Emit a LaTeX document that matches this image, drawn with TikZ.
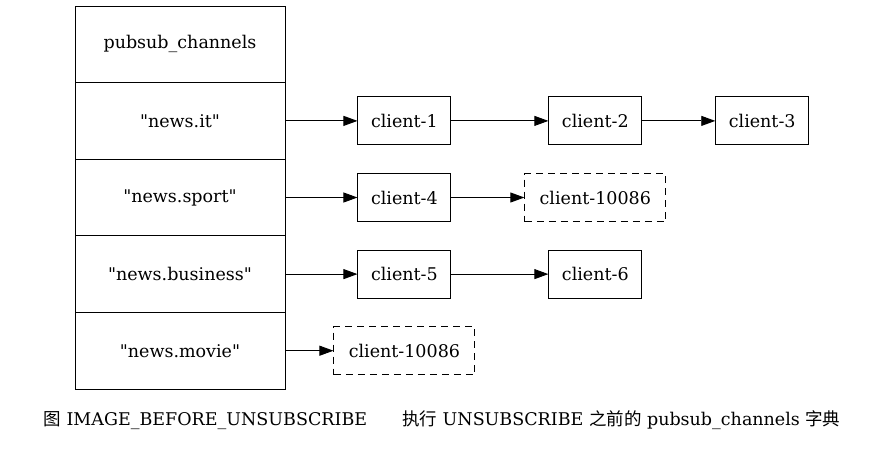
\documentclass[tikz,border=0pt]{standalone}
\usepackage{fontspec}
\setmainfont{DejaVu Serif}[Ligatures=TeXOff]
\newfontfamily\cjk{Noto Sans CJK SC}
\usetikzlibrary{arrows.meta,positioning}

\begin{document}
\begin{tikzpicture}[x=1pt, y=-1pt, font=\fontsize{17.5}{20}\selectfont,
    cell/.style={draw, line width=0.9pt, minimum width=210pt, minimum height=76.6pt, inner sep=0pt},
    client/.style={draw, line width=0.9pt, minimum width=93pt, minimum height=48pt, inner sep=0pt},
    gone/.style={client, dash pattern=on 7pt off 5pt, minimum width=141pt},
    link/.style={-{Triangle[length=14pt,width=10pt]}, line width=0.9pt}]
        \useasboundingbox (0,0) rectangle (880,448);

        % Dictionary table
        \node[cell] (dict) at (180,44.3) {pubsub\_channels};
        \foreach \name/\label [count=\i] in {it/news.it, sport/news.sport, business/news.business, movie/news.movie} {
          \pgfmathsetmacro{\ypos}{44.3+76.6*\i}
          \node[cell] (\name) at (180,\ypos) {"\label"};
        }

        % Subscribed clients
        \node[client, right=72pt of it] (c1) {client-1};
        \node[client, right=97pt of c1] (c2) {client-2};
        \node[client, right=73pt of c2] (c3) {client-3};
        \node[client, right=72pt of sport] (c4) {client-4};
        \node[gone, right=73pt of c4] (c10086a) {client-10086};
        \node[client, right=72pt of business] (c5) {client-5};
        \node[client, right=97pt of c5] (c6) {client-6};
        \node[gone, right=48pt of movie] (c10086b) {client-10086};

        % Links
        \draw[link] (it) -- (c1);
        \draw[link] (c1) -- (c2);
        \draw[link] (c2) -- (c3);
        \draw[link] (sport) -- (c4);
        \draw[link] (c4) -- (c10086a);
        \draw[link] (business) -- (c5);
        \draw[link] (c5) -- (c6);
        \draw[link] (movie) -- (c10086b);

        % Caption
        \node (caption) at (442,420) {{\cjk 图} IMAGE\_BEFORE\_UNSUBSCRIBE\qquad{\cjk 执行} UNSUBSCRIBE {\cjk 之前的} pubsub\_channels {\cjk 字典}};
\end{tikzpicture}
\end{document}
